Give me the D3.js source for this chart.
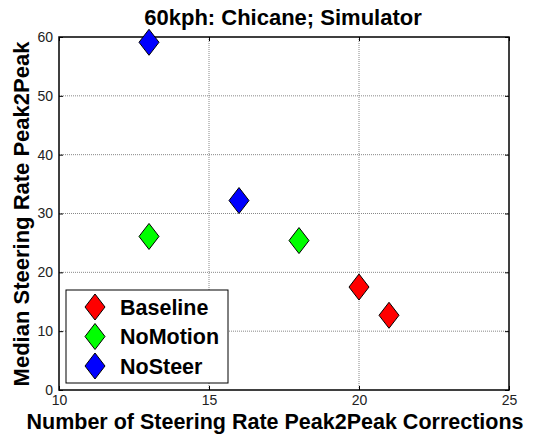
<!DOCTYPE html>
<html>
<head>
<meta charset="utf-8">
<script src="https://cdn.jsdelivr.net/npm/d3@7"></script>
<style>
  body { margin: 0; background: #fff; }
  svg { font-family: Arial, "Liberation Sans", sans-serif; }
</style>
</head>
<body>
<div id="chart"></div>
<script>
// 60kph chicane, simulator runs
const seriesNames = ['Baseline', 'NoMotion', 'NoSteer'];
const seriesColors = ['#ff0000', '#00ff00', '#0000ff'];
const baselineX = [20, 21];
const baselineY = [17.5, 12.7];
const noMotionX = [13, 18];
const noMotionY = [26.1, 25.4];
const noSteerX = [13, 16];
const noSteerY = [59.1, 32.2];
const xTicks = [10, 15, 20, 25];
const yTicks = [0, 10, 20, 30, 40, 50, 60];

const W = 539, H = 436;
const m = { left: 59, top: 37, right: 30, bottom: 46 };
const pw = W - m.left - m.right, ph = H - m.top - m.bottom;

const svg = d3.select('#chart').append('svg')
    .attr('width', W).attr('height', H);

const x = d3.scaleLinear().domain([10, 25]).range([m.left, m.left + pw]);
const y = d3.scaleLinear().domain([0, 60]).range([m.top + ph, m.top]);

// grid
const grid = svg.append('g');
grid.selectAll('.gx').data(xTicks.slice(1, -1)).join('line')
    .attr('x1', d => x(d)).attr('x2', d => x(d))
    .attr('y1', m.top).attr('y2', m.top + ph)
    .attr('stroke', '#888').attr('stroke-width', 1).attr('stroke-dasharray', '1,1');
grid.selectAll('.gy').data(yTicks.slice(1, -1)).join('line')
    .attr('y1', d => y(d)).attr('y2', d => y(d))
    .attr('x1', m.left).attr('x2', m.left + pw)
    .attr('stroke', '#888').attr('stroke-width', 1).attr('stroke-dasharray', '1,1');

// axes (ticks point inward, matlab style)
const axisStyle = g => {
    g.select('.domain').remove();
    g.selectAll('text').attr('font-size', 14).attr('fill', '#222');
    g.selectAll('line').attr('stroke', '#000');
};
svg.append('g').attr('transform', `translate(0,${m.top + ph})`)
    .call(d3.axisBottom(x).tickValues(xTicks).tickSize(-4).tickPadding(5)).call(axisStyle);
svg.append('g').attr('transform', `translate(${m.left},0)`)
    .call(d3.axisLeft(y).tickValues(yTicks).tickSize(-4).tickPadding(6)).call(axisStyle);
svg.append('g').attr('transform', `translate(0,${m.top})`)
    .call(d3.axisTop(x).tickValues(xTicks).tickSize(-4).tickFormat('')).call(axisStyle);
svg.append('g').attr('transform', `translate(${m.left + pw},0)`)
    .call(d3.axisRight(y).tickValues(yTicks).tickSize(-4).tickFormat('')).call(axisStyle);

svg.append('rect')
    .attr('x', m.left).attr('y', m.top).attr('width', pw).attr('height', ph)
    .attr('fill', 'none').attr('stroke', '#000').attr('stroke-width', 1.5);

// diamonds
const diamond = (cx, cy) => `M${cx},${cy - 13}L${cx + 10},${cy}L${cx},${cy + 13}L${cx - 10},${cy}Z`;
const series = [
    { xs: baselineX, ys: baselineY },
    { xs: noMotionX, ys: noMotionY },
    { xs: noSteerX, ys: noSteerY }
];
series.forEach((s, i) => {
    svg.append('g').selectAll('path')
        .data(s.xs.map((v, j) => [v, s.ys[j]]))
        .join('path')
        .attr('d', d => diamond(x(d[0]), y(d[1])))
        .attr('fill', seriesColors[i])
        .attr('stroke', '#000').attr('stroke-width', 1);
});

// legend
const lg = svg.append('g');
lg.append('rect').attr('x', 66).attr('y', 290).attr('width', 162).attr('height', 93)
    .attr('fill', '#fff').attr('stroke', '#000').attr('stroke-width', 1);
seriesNames.forEach((name, i) => {
    const cy = 307 + i * 29.5;
    lg.append('path').attr('d', diamond(95, cy))
        .attr('fill', seriesColors[i]).attr('stroke', '#000');
    lg.append('text').attr('x', 120).attr('y', cy + 7.5)
        .attr('font-size', 21.5).attr('font-weight', 'bold').text(name);
});

// titles
svg.append('text').attr('x', 283).attr('y', 25)
    .attr('text-anchor', 'middle').attr('font-size', 22).attr('font-weight', 'bold')
    .text('60kph: Chicane; Simulator');
svg.append('text').attr('x', 275).attr('y', 429)
    .attr('text-anchor', 'middle').attr('font-size', 21.5).attr('font-weight', 'bold')
    .text('Number of Steering Rate Peak2Peak Corrections');
svg.append('text')
    .attr('transform', `translate(29,214) rotate(-90)`)
    .attr('text-anchor', 'middle').attr('font-size', 22).attr('font-weight', 'bold')
    .text('Median Steering Rate Peak2Peak');
</script>
</body>
</html>
